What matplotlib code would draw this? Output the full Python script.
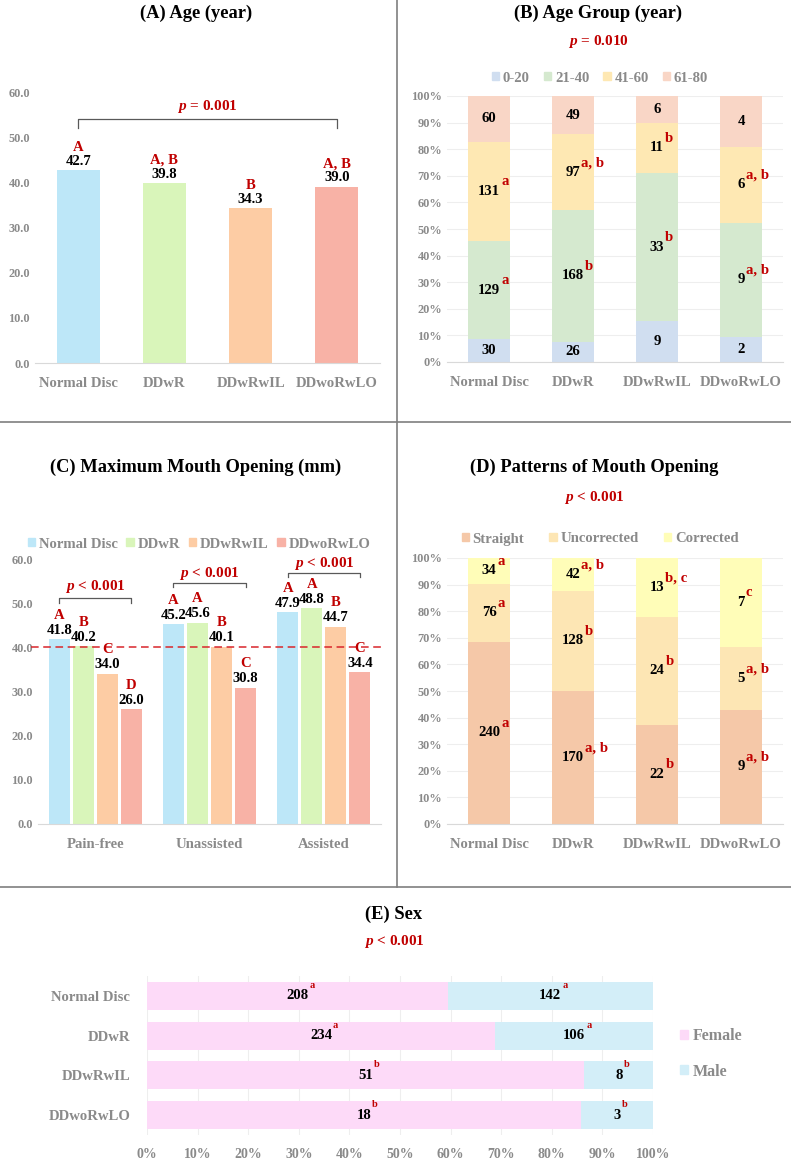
import matplotlib
matplotlib.use("Agg")
import matplotlib.pyplot as plt
from matplotlib.patches import Patch
from matplotlib.lines import Line2D
import numpy as np

plt.rcParams['font.family'] = 'Liberation Serif'
plt.rcParams['font.weight'] = 'bold'
plt.rcParams['mathtext.fontset'] = 'custom'
plt.rcParams['mathtext.it'] = 'Liberation Serif:italic:bold'
plt.rcParams['mathtext.rm'] = 'Liberation Serif:bold'

# ---- data ----
groups = ['Normal Disc', 'DDwR', 'DDwRwIL', 'DDwoRwLO']

age_mean = [42.7, 39.8, 34.3, 39.0]
age_letters = ['A', 'A, B', 'B', 'A, B']

age_bins = ['0-20', '21-40', '41-60', '61-80']
age_0_20 = [30, 26, 9, 2]
age_21_40 = [129, 168, 33, 9]
age_41_60 = [131, 97, 11, 6]
age_61_80 = [60, 49, 6, 4]
sup_0_20 = ['', '', '', '']
sup_21_40 = ['a', 'b', 'b', 'a, b']
sup_41_60 = ['a', 'a, b', 'b', 'a, b']
sup_61_80 = ['', '', '', '']

mmo_conditions = ['Pain-free', 'Unassisted', 'Assisted']
mmo_normal = [41.8, 45.2, 47.9]
mmo_ddwr = [40.2, 45.6, 48.8]
mmo_ddwril = [34.0, 40.1, 44.7]
mmo_ddworwlo = [26.0, 30.8, 34.4]
let_normal = ['A', 'A', 'A']
let_ddwr = ['B', 'A', 'A']
let_ddwril = ['C', 'B', 'B']
let_ddworwlo = ['D', 'C', 'C']

patterns = ['Straight', 'Uncorrected', 'Corrected']
straight = [240, 170, 22, 9]
uncorrected = [76, 128, 24, 5]
corrected = [34, 42, 13, 7]
sup_straight = ['a', 'a, b', 'b', 'a, b']
sup_uncorrected = ['a', 'b', 'b', 'a, b']
sup_corrected = ['a', 'a, b', 'b, c', 'c']

female = [208, 234, 51, 18]
male = [142, 106, 8, 3]
sup_female = ['a', 'a', 'b', 'b']
sup_male = ['a', 'a', 'b', 'b']

# ---- style ----
W, H = 791, 1162
RED = '#C00000'
GRAY = '#8a8a8a'
group_cols = ['#BDE7F8', '#D9F5BA', '#FDCCA4', '#F8B2A6']
age_cols = ['#D0DEF0', '#D5E9CF', '#FEE8B3', '#F9D6C6']
pat_cols = ['#F5C8A8', '#FDE6B4', '#FFFDB8']
sex_cols = ['#FDDAF8', '#D3EEF8']
FS = 10.6
TICK = 8.8

fig = plt.figure(figsize=(W / 100, H / 100), dpi=100)


def px_axes(l, t, r, b):
    return fig.add_axes([l / W, 1 - b / H, (r - l) / W, (b - t) / H])


def ftext(x, y, s, **kw):
    fig.text(x / W, 1 - y / H, s, ha='center', va='center', **kw)


def clean(ax, grid_axis=None):
    for s in ['left', 'top', 'right']:
        ax.spines[s].set_visible(False)
    ax.spines['bottom'].set_color('#D9D9D9')
    ax.tick_params(length=0, labelcolor=GRAY)
    ax.tick_params(axis='x', labelsize=FS, pad=10)
    ax.tick_params(axis='y', labelsize=TICK)
    if grid_axis:
        ax.grid(axis=grid_axis, color='#EEEEEE', lw=0.8)
        ax.set_axisbelow(True)


def sup(ax, txt, s, size=FS, dy=3):
    if s:
        ax.annotate(s, xy=(1, 1), xycoords=txt, xytext=(1, dy),
                    textcoords='offset pixels', ha='left', va='center',
                    color=RED, fontsize=size)


def bracket(ax, x0, x1, y, yb, label, ty):
    ax.plot([x0, x0, x1, x1], [yb, y, y, yb], color='#595959', lw=0.9,
            clip_on=False)
    ax.text((x0 + x1) / 2, ty, label, ha='center', va='center', color=RED,
            fontsize=FS + 0.4, clip_on=False)


def small_legend(handles, labels, cx, cy, ncol, spacing):
    fig.legend(handles, labels, loc='center', bbox_to_anchor=(cx / W, 1 - cy / H),
               ncol=ncol, frameon=False, handlelength=0.5, handleheight=0.5,
               handletextpad=0.25, columnspacing=spacing, fontsize=FS,
               labelcolor=GRAY)


# ---- (A) Age ----
ax = px_axes(35, 92, 380, 363)
x = np.arange(len(groups))
ax.bar(x, age_mean, width=0.5, color=group_cols)
ax.set_xlim(-0.5, 3.5)
ax.set_ylim(0, 60)
ax.set_yticks(np.arange(0, 61, 10))
ax.set_yticklabels([f'{v:.1f}' for v in np.arange(0, 61, 10)])
ax.set_xticks(x)
ax.set_xticklabels(groups)
clean(ax)
for i, v in enumerate(age_mean):
    ax.annotate(f'{v:.1f}', xy=(i, v), xytext=(0, 9), textcoords='offset pixels',
                ha='center', va='center', fontsize=FS)
    ax.annotate(age_letters[i], xy=(i, v), xytext=(0, 23),
                textcoords='offset pixels', ha='center', va='center',
                fontsize=FS, color=RED)
bracket(ax, 0, 3, 54.0, 52.0, '$p$ = 0.001', 56.9)
ftext(196, 13, '(A) Age (year)', fontsize=13.3)

# ---- (B) Age group ----
ax = px_axes(447, 96, 783, 362)
age_series = [age_0_20, age_21_40, age_41_60, age_61_80]
age_sups = [sup_0_20, sup_21_40, sup_41_60, sup_61_80]
totals = np.sum(age_series, axis=0)
bottom = np.zeros(len(groups))
for vals, col, sups in zip(age_series, age_cols, age_sups):
    frac = np.array(vals) / totals
    ax.bar(x, frac, bottom=bottom, width=0.5, color=col)
    for i in range(len(groups)):
        t = ax.text(i, bottom[i] + frac[i] / 2, str(vals[i]), ha='center',
                    va='center', fontsize=FS)
        sup(ax, t, sups[i])
    bottom += frac
ax.set_xlim(-0.5, 3.5)
ax.set_ylim(0, 1)
ax.set_yticks(np.arange(0, 1.01, 0.1))
ax.set_yticklabels([f'{int(round(v * 100))}%' for v in np.arange(0, 1.01, 0.1)])
ax.set_xticks(x)
ax.set_xticklabels(groups)
clean(ax, 'y')
small_legend([Patch(color=c) for c in age_cols], age_bins, 600, 78, 4, 0.95)
ftext(598, 13, '(B) Age Group (year)', fontsize=13.3)
ftext(598, 42, '$p$ = 0.010', fontsize=FS + 0.4, color=RED)

# ---- (C) Maximum mouth opening ----
ax = px_axes(38, 559, 381, 824)
xc = np.arange(len(mmo_conditions))
mmo_series = [mmo_normal, mmo_ddwr, mmo_ddwril, mmo_ddworwlo]
mmo_lets = [let_normal, let_ddwr, let_ddwril, let_ddworwlo]
offsets = np.array([-1.5, -0.5, 0.5, 1.5]) * 0.21
for vals, lets, col, off in zip(mmo_series, mmo_lets, group_cols, offsets):
    ax.bar(xc + off, vals, width=0.183, color=col)
    for i, v in enumerate(vals):
        ax.annotate(f'{v:.1f}', xy=(i + off, v), xytext=(0, 9),
                    textcoords='offset pixels', ha='center', va='center',
                    fontsize=FS)
        ax.annotate(lets[i], xy=(i + off, v), xytext=(0, 24),
                    textcoords='offset pixels', ha='center', va='center',
                    fontsize=FS, color=RED)
ax.axhline(40, color='#D9262B', lw=1.1, ls=(0, (5, 3)), xmin=-0.02, xmax=1.01,
           clip_on=False)
ax.set_xlim(-0.5, 2.5)
ax.set_ylim(0, 60)
ax.set_yticks(np.arange(0, 61, 10))
ax.set_yticklabels([f'{v:.1f}' for v in np.arange(0, 61, 10)])
ax.set_xticks(xc)
ax.set_xticklabels(mmo_conditions)
clean(ax)
bracket(ax, offsets[0], offsets[-1], 51.2, 50.0, '$p$ < 0.001', 53.7)
bracket(ax, 1 + offsets[0], 1 + offsets[-1], 54.6, 53.7, '$p$ < 0.001', 56.8)
bracket(ax, 2 + offsets[0], 2 + offsets[-1], 56.8, 55.9, '$p$ < 0.001', 58.9)
small_legend([Patch(color=c) for c in group_cols], groups, 199, 544, 4, 0.6)
ftext(196, 467, '(C) Maximum Mouth Opening (mm)', fontsize=13.3)

# ---- (D) Patterns of mouth opening ----
ax = px_axes(447, 558, 783, 824)
pat_series = [straight, uncorrected, corrected]
pat_sups = [sup_straight, sup_uncorrected, sup_corrected]
totals = np.sum(pat_series, axis=0)
bottom = np.zeros(len(groups))
for vals, col, sups in zip(pat_series, pat_cols, pat_sups):
    frac = np.array(vals) / totals
    ax.bar(x, frac, bottom=bottom, width=0.5, color=col)
    for i in range(len(groups)):
        t = ax.text(i, bottom[i] + frac[i] / 2, str(vals[i]), ha='center',
                    va='center', fontsize=FS)
        sup(ax, t, sups[i])
    bottom += frac
ax.set_xlim(-0.5, 3.5)
ax.set_ylim(0, 1)
ax.set_yticks(np.arange(0, 1.01, 0.1))
ax.set_yticklabels([f'{int(round(v * 100))}%' for v in np.arange(0, 1.01, 0.1)])
ax.set_xticks(x)
ax.set_xticklabels(groups)
clean(ax, 'y')
small_legend([Patch(color=c) for c in pat_cols], patterns, 600, 539, 3, 1.7)
ftext(594, 467, '(D) Patterns of Mouth Opening', fontsize=13.3)
ftext(594, 498, '$p$ < 0.001', fontsize=FS + 0.4, color=RED)

# ---- (E) Sex ----
ax = px_axes(147, 976, 653, 1135)
y = np.arange(len(groups))
totals = np.array(female) + np.array(male)
left = np.zeros(len(groups))
for vals, col, sups in zip([female, male], sex_cols, [sup_female, sup_male]):
    frac = np.array(vals) / totals
    ax.barh(y, frac, left=left, height=0.7, color=col)
    for i in range(len(groups)):
        t = ax.text(left[i] + frac[i] / 2, i, str(vals[i]), ha='center',
                    va='center', fontsize=FS)
        sup(ax, t, sups[i], size=7.5, dy=4)
    left += frac
ax.set_ylim(3.5, -0.5)
ax.set_xlim(0, 1)
ax.set_xticks(np.arange(0, 1.01, 0.1))
ax.set_xticklabels([f'{int(round(v * 100))}%' for v in np.arange(0, 1.01, 0.1)])
ax.set_yticks(y)
ax.set_yticklabels(groups)
clean(ax, 'x')
ax.spines['bottom'].set_visible(False)
ax.tick_params(axis='x', labelsize=10, pad=9)
ax.tick_params(axis='y', labelsize=FS, pad=12)
fig.legend([Patch(color=c) for c in sex_cols], ['Female', 'Male'],
           loc='center left', bbox_to_anchor=(666 / W, 1 - 1054 / H),
           ncol=1, frameon=False, handlelength=0.5, handleheight=0.5,
           handletextpad=0.3, labelspacing=1.2, fontsize=11.5,
           labelcolor=GRAY)
ftext(394, 914, '(E) Sex', fontsize=13.3)
ftext(394, 942, '$p$ < 0.001', fontsize=FS + 0.4, color=RED)

# ---- panel dividers ----
for xs, ys in [([397, 397], [0, 887]), ([0, W], [422, 422]), ([0, W], [887, 887])]:
    fig.add_artist(Line2D([v / W for v in xs], [1 - v / H for v in ys],
                          transform=fig.transFigure, color='#7f7f7f', lw=1.2))

fig.savefig('out.png', dpi=100)
